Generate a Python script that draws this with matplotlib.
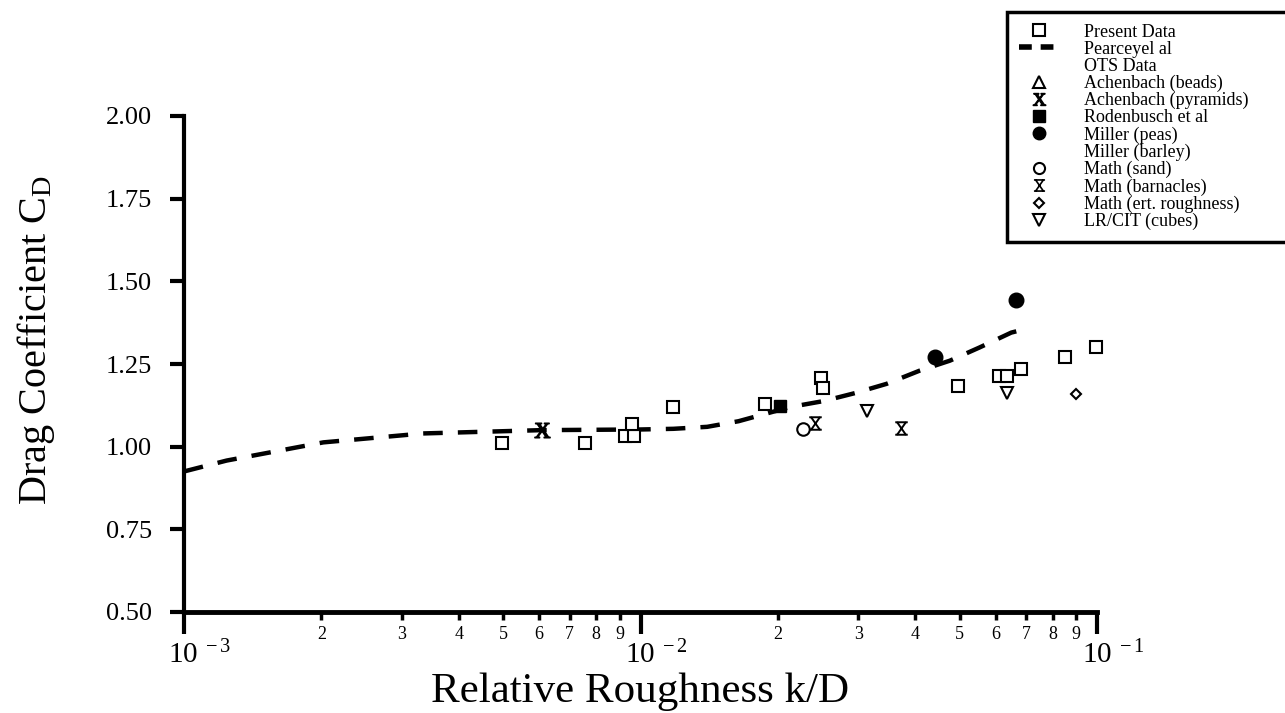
"""
Drag coefficient vs relative roughness, with the Pearce et al. curve
and the older data sets (Achenbach, Rodenbusch, Miller, Math, LR/CIT).
"""

import numpy as np
import matplotlib
matplotlib.use("Agg")  # headless
import matplotlib.pyplot as plt
import matplotlib.transforms as mtransforms
from matplotlib.lines import Line2D
from matplotlib.path import Path
from matplotlib.ticker import LogLocator, FuncFormatter, FixedLocator

plt.rcParams["font.family"] = ["Liberation Serif", "DejaVu Serif"]
plt.rcParams["mathtext.fontset"] = "custom"
plt.rcParams["mathtext.rm"] = "Liberation Serif"
plt.rcParams["mathtext.it"] = "Liberation Serif:italic"

# ---- data ----
present_kd = [0.00497, 0.00755, 0.00925, 0.0097, 0.00957, 0.0118, 0.0187,
              0.0248, 0.0251, 0.0497, 0.0611, 0.0634, 0.0682, 0.0853, 0.0996]
present_cd = [1.011, 1.010, 1.033, 1.033, 1.069, 1.120, 1.130,
              1.207, 1.178, 1.183, 1.213, 1.213, 1.236, 1.272, 1.300]

pearce_kd = [0.001, 0.00124, 0.00202, 0.00334, 0.00608, 0.0100, 0.0118,
             0.0140, 0.0164, 0.0213, 0.0252, 0.0295, 0.0346, 0.0409,
             0.0476, 0.0553, 0.0649, 0.0671]
pearce_cd = [0.925, 0.958, 1.013, 1.040, 1.050, 1.052, 1.054,
             1.060, 1.077, 1.120, 1.138, 1.162, 1.190, 1.230,
             1.260, 1.300, 1.345, 1.350]

ach_beads_kd, ach_beads_cd = [], []
ach_pyr_kd, ach_pyr_cd = [0.00608], [1.050]
roden_kd, roden_cd = [0.0202], [1.122]
miller_peas_kd, miller_peas_cd = [0.0442, 0.0665], [1.270, 1.444]
math_sand_kd, math_sand_cd = [0.02275], [1.054]
math_barn_kd, math_barn_cd = [0.0241, 0.0372], [1.072, 1.057]
math_ert_kd, math_ert_cd = [0.090], [1.160]
lrcit_kd, lrcit_cd = [0.0314, 0.0634], [1.109, 1.163]

y_ticks = [0.50, 0.75, 1.00, 1.25, 1.50, 1.75, 2.00]

# hourglass marker (bars top and bottom, crossed sides)
hourglass = Path(
    [(-1, 1), (1, 1), (-1, -1), (1, -1), (-0.7, 1), (0.7, -1), (0.7, 1), (-0.7, -1)],
    [Path.MOVETO, Path.LINETO] * 4,
)

W, H = 1285, 713
fig = plt.figure(figsize=(W / 100, H / 100), dpi=100)
ax = fig.add_axes([184 / W, 1 - 612 / H, 913 / W, 496 / H])

open_kw = dict(ls="none", mfc="white", mec="black", mew=1.5)
ax.plot(pearce_kd, pearce_cd, color="black", lw=3.2, ls=(0, (4.4, 3.4)), zorder=2)
ax.plot(present_kd, present_cd, marker="s", ms=8.5, **open_kw, zorder=3, clip_on=False)
ax.plot(ach_beads_kd, ach_beads_cd, marker="^", ms=9, **open_kw)
ax.plot(ach_pyr_kd, ach_pyr_cd, marker=r"$\mathrm{X}$", ms=11, ls="none", color="black")
ax.plot(roden_kd, roden_cd, marker="s", ms=8.5, ls="none", color="black")
ax.plot(miller_peas_kd, miller_peas_cd, marker="o", ms=10.5, ls="none", color="black")
ax.plot(math_sand_kd, math_sand_cd, marker="o", ms=9, **open_kw)
ax.plot(math_barn_kd, math_barn_cd, marker=hourglass, ms=9, ls="none",
        color="black", mew=1.4)
ax.plot(math_ert_kd, math_ert_cd, marker="D", ms=5.5, **open_kw)
ax.plot(lrcit_kd, lrcit_cd, marker="v", ms=9, **open_kw)

# axes
ax.set_xscale("log")
ax.set_xlim(1e-3, 1e-1)
ax.set_ylim(0.5, 2.0)
ax.set_yticks(y_ticks)
ax.yaxis.set_major_formatter(FuncFormatter(lambda v, _: f"{v:.2f}"))
ax.xaxis.set_major_locator(FixedLocator([1e-3, 1e-2, 1e-1]))
ax.xaxis.set_minor_locator(LogLocator(base=10, subs=range(2, 10)))
ax.xaxis.set_major_formatter(FuncFormatter(
    lambda v, _: r"$\mathregular{10^{\ %d}}$" % round(np.log10(v))))
ax.xaxis.set_minor_formatter(FuncFormatter(
    lambda v, _: "%d" % round(v / 10 ** np.floor(np.log10(v) + 1e-9))))

for s in ("top", "right"):
    ax.spines[s].set_visible(False)
ax.spines["left"].set_linewidth(3)
ax.spines["bottom"].set_linewidth(3.5)

ax.tick_params(axis="y", direction="out", length=10, width=3, labelsize=19, pad=13)
ax.tick_params(axis="x", which="major", direction="out", length=16, width=3,
               labelsize=21, pad=5)
ax.tick_params(axis="x", which="minor", direction="out", length=6, width=2.5,
               labelsize=13, pad=4)

# keep "10" centred under the tick, exponent hanging to the right
shift = mtransforms.ScaledTranslation(0.16, 0, fig.dpi_scale_trans)
for lab in ax.get_xticklabels(which="major"):
    lab.set_transform(lab.get_transform() + shift)

ax.set_xlabel("Relative Roughness k/D", fontsize=31, labelpad=2)
fig.text(36 / W, 1 - 340 / H, r"Drag Coefficient C$_\mathregular{D}$",
         rotation=90, ha="center", va="center", fontsize=29)

# legend
handles = [
    Line2D([], [], marker="s", ms=8, **open_kw),
    Line2D([], [], color="black", lw=4, ls=(0, (2.3, 1.6))),
    Line2D([], [], ls="none"),
    Line2D([], [], marker="^", ms=8, **open_kw),
    Line2D([], [], marker=r"$\mathrm{X}$", ms=9, ls="none", color="black"),
    Line2D([], [], marker="s", ms=8, ls="none", color="black"),
    Line2D([], [], marker="o", ms=9, ls="none", color="black"),
    Line2D([], [], ls="none"),
    Line2D([], [], marker="o", ms=8, **open_kw),
    Line2D([], [], marker=hourglass, ms=8, ls="none", color="black", mew=1.2),
    Line2D([], [], marker="D", ms=5.5, **open_kw),
    Line2D([], [], marker="v", ms=8, **open_kw),
]
labels = ["Present Data", "Pearceyel al", "OTS Data", "Achenbach (beads)",
          "Achenbach (pyramids)", "Rodenbusch et al", "Miller (peas)",
          "Miller (barley)", "Math (sand)", "Math (barnacles)",
          "Math (ert. roughness)", "LR/CIT (cubes)"]
leg = fig.legend(handles, labels, loc="upper left", mode="expand",
                 bbox_to_anchor=(1007 / W, 1 - 240 / H, 300 / W, 228 / H),
                 fontsize=13, labelspacing=0.0, handlelength=2.2,
                 handletextpad=1.4, borderpad=0.65, borderaxespad=0,
                 fancybox=False, framealpha=1, edgecolor="black")
leg.get_frame().set_linewidth(2.5)

fig.savefig("out.png", dpi=100)
